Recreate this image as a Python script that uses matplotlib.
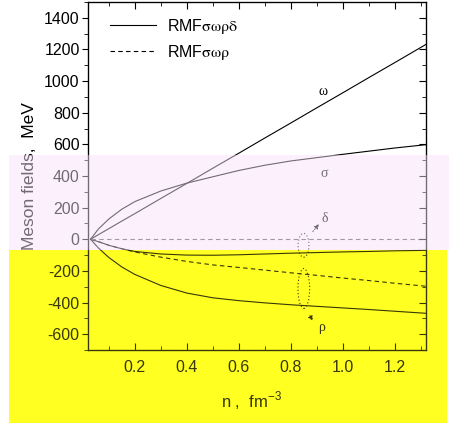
import matplotlib
matplotlib.use('Agg')
import matplotlib.pyplot as plt
from matplotlib.patches import Rectangle, Ellipse
from matplotlib.ticker import MultipleLocator

plt.rcParams['font.family'] = ['Liberation Sans', 'DejaVu Sans']
plt.rcParams['mathtext.fontset'] = 'stix'
plt.rcParams['axes.unicode_minus'] = False

# density n, fm^-3
n = [0.03, 0.06, 0.1, 0.15, 0.2, 0.3, 0.4, 0.5, 0.6, 0.7, 0.8, 0.9, 1.0, 1.1, 1.2, 1.32]
# RMF sigma-omega-rho-delta (solid)
omega = [0, 29, 67, 115, 162, 258, 353, 449, 544, 640, 735, 831, 926, 1022, 1117, 1232]
sigma = [0, 65, 128, 190, 238, 305, 355, 395, 435, 468, 495, 516, 537, 557, 577, 598]
delta = [0, -15, -38, -60, -77, -93, -100, -101, -98, -93, -88, -84, -80, -77, -73, -70]
rho_d = [0, -55, -115, -175, -222, -292, -340, -370, -388, -402, -414, -424, -434, -444, -455, -468]
# RMF sigma-omega-rho (dashed)
rho_nd = [0, -15, -38, -60, -80, -113, -140, -162, -178, -195, -212, -228, -245, -261, -278, -297]
delta_nd = [0] * len(n)

W, H = 449, 428
fig = plt.figure(figsize=(W / 100, H / 100), dpi=100)

# background tints
fig.add_artist(Rectangle((9 / W, (H - 250) / H), 440 / W, 95 / H, transform=fig.transFigure,
                         facecolor='#FDF0FD', edgecolor='none', zorder=-5))
fig.add_artist(Rectangle((9 / W, (H - 423) / H), 438 / W, 173 / H, transform=fig.transFigure,
                         facecolor='#FFFF22', edgecolor='none', zorder=-5))

ax = fig.add_axes([88 / W, (H - 350) / H, 338 / W, 348 / H])
ax.set_facecolor('none')

lw = 0.8
l1, = ax.plot(n, omega, '-', color='black', lw=lw, label='RMF$\\mathrm{σωρδ}$')
ax.plot(n, sigma, '-', color='black', lw=lw)
ax.plot(n, delta, '-', color='black', lw=lw)
ax.plot(n, rho_d, '-', color='black', lw=lw)
l2, = ax.plot(n, rho_nd, '--', color='black', lw=lw, dashes=(4, 3), label='RMF$\\mathrm{σωρ}$')
ax.plot(n, delta_nd, '--', color='#555555', lw=lw, dashes=(4, 3))

ax.set_xlim(0.02, 1.32)
ax.set_ylim(-700, 1500)
ax.xaxis.set_major_locator(MultipleLocator(0.2))
ax.xaxis.set_minor_locator(MultipleLocator(0.1))
ax.yaxis.set_major_locator(MultipleLocator(200))
ax.yaxis.set_minor_locator(MultipleLocator(100))
ax.xaxis.set_major_formatter(plt.FuncFormatter(lambda v, p: f'{v:.1f}'))
ax.yaxis.set_major_formatter(plt.FuncFormatter(lambda v, p: f'{v:.0f}'))

ax.tick_params(axis='x', which='both', direction='in', top=True, bottom=True, labelsize=11.5, pad=7)
ax.tick_params(axis='x', which='major', length=5)
ax.tick_params(axis='x', which='minor', length=3)
ax.tick_params(axis='y', which='both', direction='out', left=True, right=False, labelsize=11.5, pad=2)
ax.tick_params(axis='y', which='major', length=4)
ax.tick_params(axis='y', which='minor', length=3)
for s in ax.spines.values():
    s.set_linewidth(0.9)

axr = ax.twinx()
axr.set_ylim(ax.get_ylim())
axr.yaxis.set_major_locator(MultipleLocator(200))
axr.yaxis.set_minor_locator(MultipleLocator(100))
axr.tick_params(axis='y', which='both', direction='in', labelright=False)
axr.tick_params(axis='y', which='major', length=5)
axr.tick_params(axis='y', which='minor', length=3)
axr.set_facecolor('none')

ax.set_xlabel('n ,  fm$^{\\mathregular{-3}}$', fontsize=12)
ax.xaxis.set_label_coords(0.485, -0.115)
ax.set_ylabel('Meson fields,  MeV', fontsize=12.5)
ax.yaxis.set_label_coords(-0.15, 0.5)

ax.legend(handles=[l1, l2], loc='upper left', bbox_to_anchor=(0.065, 0.958), frameon=False,
          borderpad=0, borderaxespad=0, handlelength=2.9, handletextpad=0.7, labelspacing=0.45,
          fontsize=11.5)

gfont = dict(family=['Liberation Serif', 'DejaVu Serif'], fontsize=10, ha='center', va='center')
ax.text(0.924, 935, 'ω', **gfont)
ax.text(0.93, 418, 'σ', **gfont)
ax.text(0.93, 132, 'δ', **gfont)
ax.text(0.92, -556, 'ρ', **gfont)

ax.add_patch(Ellipse((0.849, -38), 0.042, 151, fill=False, ls=(0, (1, 2)), lw=0.8, ec='black'))
ax.add_patch(Ellipse((0.85, -311), 0.045, 252, fill=False, ls=(0, (1, 2)), lw=0.8, ec='black'))
ax.annotate('', xy=(0.915, 110), xytext=(0.878, 35),
            arrowprops=dict(arrowstyle='-|>', lw=0.7, ls=':', color='black', mutation_scale=7))
ax.annotate('', xy=(0.89, -530), xytext=(0.868, -468),
            arrowprops=dict(arrowstyle='-|>', lw=0.7, ls=':', color='black', mutation_scale=7))

# translucent overlays tinting the content
fig.add_artist(Rectangle((9 / W, (H - 250) / H), 440 / W, 95 / H, transform=fig.transFigure,
                         facecolor='#FDF0FD', edgecolor='none', alpha=0.45, zorder=10))
fig.add_artist(Rectangle((9 / W, (H - 423) / H), 438 / W, 173 / H, transform=fig.transFigure,
                         facecolor='#FFFF22', edgecolor='none', alpha=0.22, zorder=10))

fig.savefig('out.png', dpi=100)
